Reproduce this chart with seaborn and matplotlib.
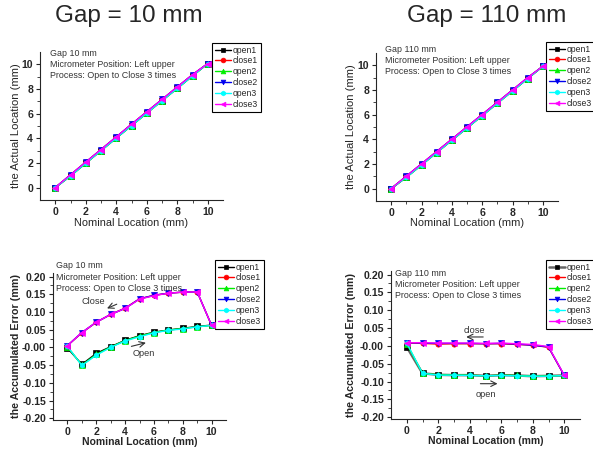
import numpy as np
import pandas as pd
import matplotlib
matplotlib.use("Agg")
import matplotlib.pyplot as plt
import seaborn as sns

sns.set_style("ticks")
plt.rcParams['font.family'] = ['Liberation Sans', 'DejaVu Sans']

nominal = [0, 1, 2, 3, 4, 5, 6, 7, 8, 9, 10]
series_names = ["open1", "close1", "open2", "close2", "open3", "close3"]

# Gap 10 mm - actual location
g10_act_open1 = [0.00, 0.95, 1.98, 3.00, 4.02, 5.03, 6.04, 7.05, 8.05, 9.06, 10.06]
g10_act_close1 = [0.01, 1.04, 2.07, 3.09, 4.11, 5.14, 6.15, 7.15, 8.16, 9.16, 10.06]
g10_act_open2 = [0.00, 0.95, 1.98, 3.00, 4.02, 5.03, 6.04, 7.05, 8.05, 9.06, 10.06]
g10_act_close2 = [0.01, 1.04, 2.07, 3.09, 4.11, 5.14, 6.15, 7.15, 8.16, 9.16, 10.06]
g10_act_open3 = [0.00, 0.95, 1.98, 3.00, 4.02, 5.03, 6.04, 7.05, 8.05, 9.06, 10.06]
g10_act_close3 = [0.01, 1.04, 2.07, 3.09, 4.11, 5.14, 6.15, 7.15, 8.16, 9.16, 10.06]

# Gap 110 mm - actual location
g110_act_open1 = [0.00, 0.92, 1.92, 2.92, 3.92, 4.92, 5.92, 6.92, 7.92, 8.92, 9.92]
g110_act_close1 = [0.01, 1.01, 2.01, 3.01, 4.01, 5.01, 6.01, 7.00, 8.00, 9.00, 9.92]
g110_act_open2 = [0.00, 0.92, 1.92, 2.92, 3.92, 4.92, 5.92, 6.92, 7.92, 8.92, 9.92]
g110_act_close2 = [0.01, 1.01, 2.01, 3.01, 4.01, 5.01, 6.01, 7.00, 8.00, 9.00, 9.92]
g110_act_open3 = [0.01, 0.92, 1.92, 2.92, 3.92, 4.92, 5.92, 6.92, 7.92, 8.92, 9.92]
g110_act_close3 = [0.01, 1.01, 2.01, 3.01, 4.01, 5.01, 6.01, 7.00, 8.00, 9.00, 9.92]

# Gap 10 mm - accumulated error
g10_err_open1 = [-0.002, -0.048, -0.017, 0.002, 0.020, 0.033, 0.043, 0.049, 0.054, 0.059, 0.063]
g10_err_close1 = [0.005, 0.041, 0.071, 0.093, 0.111, 0.137, 0.147, 0.153, 0.156, 0.157, 0.062]
g10_err_open2 = [0.002, -0.050, -0.020, 0.001, 0.019, 0.032, 0.042, 0.049, 0.053, 0.058, 0.062]
g10_err_close2 = [0.005, 0.042, 0.071, 0.093, 0.110, 0.137, 0.147, 0.153, 0.156, 0.157, 0.062]
g10_err_open3 = [0.003, -0.051, -0.022, 0.000, 0.018, 0.030, 0.041, 0.048, 0.052, 0.058, 0.062]
g10_err_close3 = [0.005, 0.042, 0.071, 0.093, 0.110, 0.136, 0.146, 0.153, 0.156, 0.157, 0.062]

# Gap 110 mm - accumulated error
g110_err_open1 = [-0.003, -0.077, -0.081, -0.082, -0.082, -0.084, -0.082, -0.083, -0.085, -0.084, -0.083]
g110_err_close1 = [0.008, 0.007, 0.005, 0.006, 0.006, 0.006, 0.006, 0.004, 0.002, -0.004, -0.083]
g110_err_open2 = [0.006, -0.077, -0.081, -0.082, -0.082, -0.084, -0.082, -0.083, -0.085, -0.084, -0.083]
g110_err_close2 = [0.009, 0.008, 0.007, 0.007, 0.007, 0.006, 0.007, 0.005, 0.002, -0.003, -0.083]
g110_err_open3 = [0.008, -0.077, -0.082, -0.082, -0.083, -0.084, -0.083, -0.084, -0.085, -0.085, -0.083]
g110_err_close3 = [0.009, 0.009, 0.008, 0.008, 0.008, 0.007, 0.008, 0.006, 0.004, -0.002, -0.082]

colors = ["black", "red", "#00ee00", "#0000ee", "cyan", "magenta"]
markers = ["s", "o", "^", "v", "h", "<"]

W, H = 593, 449
fig = plt.figure(figsize=(W / 100, H / 100), dpi=100)

def rect(l, r, b, t):
    return [l / W, 1 - b / H, (r - l) / W, (b - t) / H]

panels = [
    dict(px=(40, 223, 200, 52),
         data=[g10_act_open1, g10_act_close1, g10_act_open2, g10_act_close2, g10_act_open3, g10_act_close3],
         ylim=(-1, 11), yticks=[0, 2, 4, 6, 8, 10], ylabel="the Actual Location (mm)",
         bold=False, text_xy=(50, 53), leg=(212, 43), open1col="black", fmt="{:.0f}",
         ylab_x=21, xlab_y=218),
    dict(px=(376, 558, 201, 53),
         data=[g110_act_open1, g110_act_close1, g110_act_open2, g110_act_close2, g110_act_open3, g110_act_close3],
         ylim=(-1, 11), yticks=[0, 2, 4, 6, 8, 10], ylabel="the Actual Location (mm)",
         bold=False, text_xy=(385, 49), leg=(546, 42), open1col="black", fmt="{:.0f}",
         ylab_x=356, xlab_y=218),
    dict(px=(53, 226, 420, 273),
         data=[g10_err_open1, g10_err_close1, g10_err_open2, g10_err_close2, g10_err_open3, g10_err_close3],
         ylim=(-0.205, 0.21), yticks=list(np.round(np.arange(-0.2, 0.201, 0.05), 2)),
         ylabel="the Accumulated Error (mm)",
         bold=True, text_xy=(56, 266), leg=(215, 260), open1col="black", fmt="{:.2f}",
         ylab_x=21, xlab_y=437),
    dict(px=(391, 580, 419, 271),
         data=[g110_err_open1, g110_err_close1, g110_err_open2, g110_err_close2, g110_err_open3, g110_err_close3],
         ylim=(-0.205, 0.21), yticks=list(np.round(np.arange(-0.2, 0.201, 0.05), 2)),
         ylabel="the Accumulated Error (mm)",
         bold=True, text_xy=(395, 273), leg=(546, 260), open1col="#666666", fmt="{:.2f}",
         ylab_x=356, xlab_y=436),
]

gap_lines = ["Gap 10 mm", "Gap 110 mm", "Gap 10 mm", "Gap 110 mm"]
axes = []
for i, p in enumerate(panels):
    l, r, b, t = p["px"]
    ax = fig.add_axes(rect(l, r, b, t))
    axes.append(ax)
    handles = []
    for j, (name, ys) in enumerate(zip(series_names, p["data"])):
        col = colors[j]
        if j == 0:
            col = p["open1col"]
        df = pd.DataFrame({"x": nominal, "y": ys})
        sns.lineplot(data=df, x="x", y="y", ax=ax, color=col, marker=markers[j],
                     markersize=3.8, markeredgecolor=colors[j], markerfacecolor=colors[j],
                     markeredgewidth=0.5,
                     linewidth=1.0 if (j != 0 or i != 3) else 1.8, label=name, legend=False,
                     zorder=2 + j)
        handles.append(ax.lines[-1])
    ax.set_xlim(-1, 11)
    ax.set_ylim(*p["ylim"])
    ax.set_xticks([0, 2, 4, 6, 8, 10])
    ax.set_xticks([1, 3, 5, 7, 9], minor=True)
    yt = p["yticks"]
    ax.set_yticks(yt)
    step = yt[1] - yt[0]
    ax.set_yticks([v + step / 2 for v in yt[:-1]], minor=True)
    ax.set_yticklabels([p["fmt"].format(v) for v in yt])
    ax.set_xticklabels([str(v) for v in [0, 2, 4, 6, 8, 10]])
    for lab in ax.get_xticklabels() + ax.get_yticklabels():
        lab.set_fontweight("bold")
        lab.set_fontsize(7.6)
    ax.tick_params(which="major", direction="out", length=3, width=0.8, pad=2)
    ax.tick_params(which="minor", direction="out", length=2, width=0.6)
    sns.despine(ax=ax)
    for s in ["left", "bottom"]:
        ax.spines[s].set_linewidth(0.8)
    wgt = "bold" if p["bold"] else "normal"
    ax.set_xlabel("Nominal Location (mm)", fontsize=7.5 if p["bold"] else 7.9, fontweight=wgt)
    ax.set_ylabel(p["ylabel"], fontsize=7.7 if p["bold"] else 8.1, fontweight=wgt)
    ax.yaxis.set_label_coords((p["ylab_x"] - l) / (r - l), 0.5)
    ax.xaxis.set_label_coords(0.5, (b - p["xlab_y"]) / (b - t))
    # annotation text
    tx, ty = p["text_xy"]
    lines = [gap_lines[i], "Micrometer Position: Left upper", "Process: Open to Close 3 times"]
    for k, txt in enumerate(lines):
        fig.text(tx / W, 1 - (ty + k * 11.3) / H, txt, fontsize=6.4, color="#333333",
                 va="center", ha="left")
    lx, ly = p["leg"]
    leg = ax.legend(handles=handles, labels=series_names, loc="upper left",
                    bbox_to_anchor=(lx / W, 1 - ly / H), bbox_transform=fig.transFigure,
                    fontsize=6.2, frameon=True, fancybox=False, framealpha=1,
                    edgecolor="black", handlelength=1.9, labelspacing=0.22,
                    borderpad=0.3, handletextpad=0.25, borderaxespad=0, markerscale=0.9)
    leg.get_frame().set_linewidth(0.8)

# Arrows and labels on error panels
ax = axes[2]
ax.annotate("", xy=(2.57, 0.107), xytext=(3.6, 0.125),
            arrowprops=dict(arrowstyle="->", color="#333333", lw=0.8))
ax.text(1.8, 0.129, "Close", fontsize=6.6, color="#333333", ha="center", va="center")
ax.annotate("", xy=(5.63, 0.015), xytext=(4.25, 0.001),
            arrowprops=dict(arrowstyle="->", color="#333333", lw=0.8))
ax.text(5.28, -0.018, "Open", fontsize=6.6, color="#333333", ha="center", va="center")

ax = axes[3]
ax.annotate("", xy=(3.6, 0.025), xytext=(5.03, 0.025),
            arrowprops=dict(arrowstyle="->", color="#333333", lw=0.8))
ax.text(4.29, 0.044, "close", fontsize=6.6, color="#333333", ha="center", va="center")
ax.annotate("", xy=(5.94, -0.106), xytext=(4.5, -0.106),
            arrowprops=dict(arrowstyle="->", color="#333333", lw=0.8))
ax.text(5.03, -0.135, "open", fontsize=6.6, color="#333333", ha="center", va="center")

fig.text(129 / W, 1 - 16 / H, "Gap = 10 mm", fontsize=17.5, ha="center", va="center")
fig.text(487 / W, 1 - 16 / H, "Gap = 110 mm", fontsize=17.5, ha="center", va="center")

fig.savefig("out.png", dpi=100)
